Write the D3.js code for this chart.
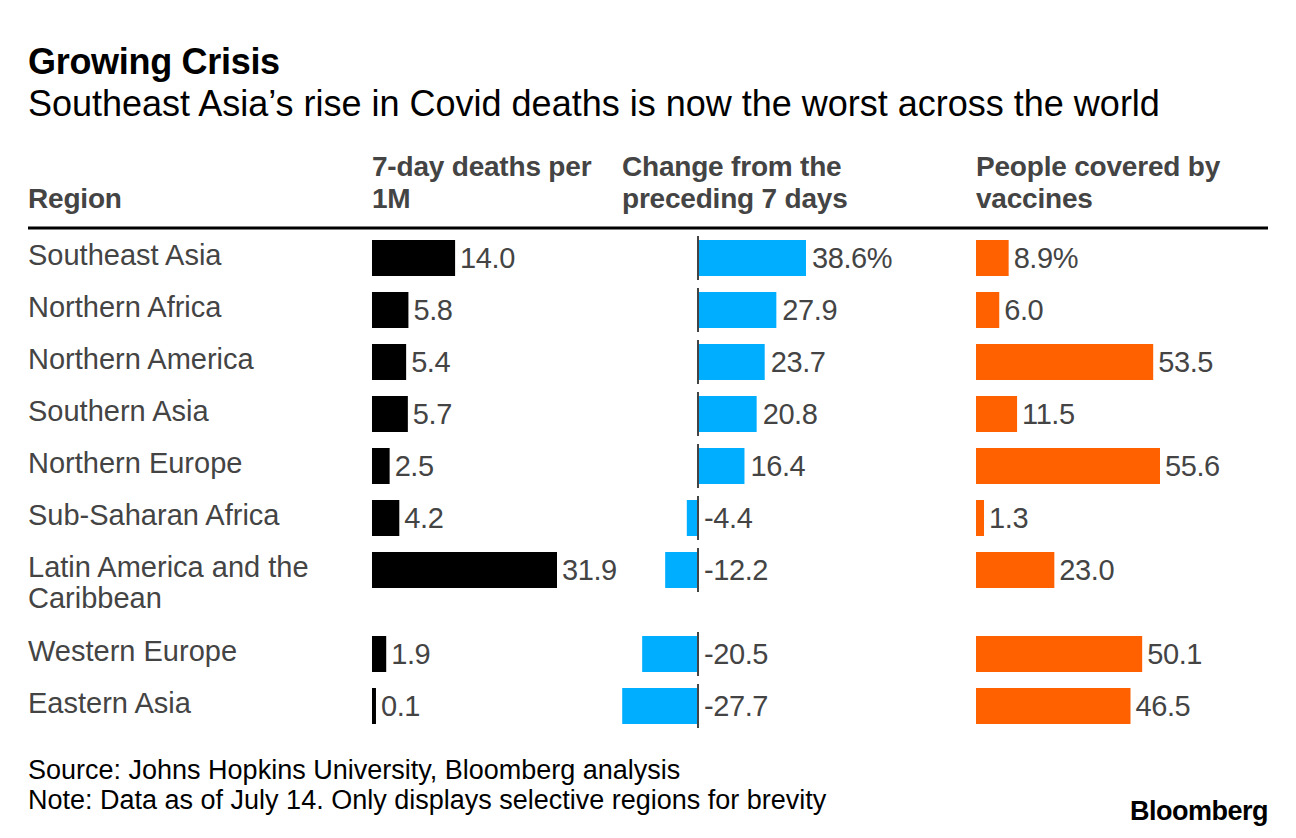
<!DOCTYPE html>
<html><head><meta charset="utf-8">
<script src="https://cdn.jsdelivr.net/npm/d3@7"></script>
<style>
html,body{margin:0;padding:0;background:#fff;}
svg text{font-family:"Liberation Sans",Arial,Helvetica,sans-serif;}
</style></head>
<body><svg id="chart" width="1296" height="838"></svg>
<script>
const regions = ["Southeast Asia","Northern Africa","Northern America","Southern Asia","Northern Europe","Sub-Saharan Africa","Latin America and the Caribbean","Western Europe","Eastern Asia"];
const deaths = [14.0,5.8,5.4,5.7,2.5,4.2,31.9,1.9,0.1];
const change = [38.6,27.9,23.7,20.8,16.4,-4.4,-12.2,-20.5,-27.7];
const vaccines = [8.9,6.0,53.5,11.5,55.6,1.3,23.0,50.1,46.5];
const headers = [["Region"],["7-day deaths per","1M"],["Change from the","preceding 7 days"],["People covered by","vaccines"]];
const title = "Growing Crisis";
const subtitle = "Southeast Asia\u2019s rise in Covid deaths is now the worst across the world";
const notes = ["Source: Johns Hopkins University, Bloomberg analysis","Note: Data as of July 14. Only displays selective regions for brevity"];

const svg = d3.select("#chart");
const grey = "#444";
const colX = [28, 372, 622, 976];

svg.append("text").attr("x",28).attr("y",74).attr("font-size",36).attr("font-weight","bold").attr("fill","#000").attr("letter-spacing",-0.3).text(title);
svg.append("text").attr("x",28).attr("y",116).attr("font-size",36).attr("fill","#000").text(subtitle);

// headers
headers.forEach((h,i)=>{
  const lines = h.length===1 ? [null,h[0]] : h;
  lines.forEach((t,j)=>{ if(t) svg.append("text").attr("x",colX[i]).attr("y",176+j*32).attr("font-size",28).attr("font-weight","bold").attr("fill",grey).attr("letter-spacing",-0.2).text(t); });
});
svg.append("line").attr("x1",28).attr("x2",1268).attr("y1",228).attr("y2",228).attr("stroke","#000").attr("stroke-width",3);

// wrap labels
const meas = svg.append("text").attr("font-size",29).attr("visibility","hidden");
function wrap(s, maxW){
  const words = s.split(" "); const lines=[]; let cur="";
  words.forEach(w=>{ const t = cur? cur+" "+w : w; meas.text(t); if(meas.node().getComputedTextLength()>maxW && cur){lines.push(cur);cur=w;} else cur=t; });
  if(cur) lines.push(cur); return lines;
}
const rows = regions.map((r,i)=>({region:r, lines:wrap(r,310), d:deaths[i], c:change[i], v:vaccines[i], i}));
meas.remove();
let acc = 240;
rows.forEach(r=>{ r.top = acc; acc += 52 + 32*(r.lines.length-1); });
const yTop = d3.scaleOrdinal().domain(regions).range(rows.map(r=>r.top));
const barH = 36;

const xD = d3.scaleLinear().domain([0,31.9]).range([372+3.4, 372+185]);
const xC = d3.scaleLinear().domain([0,38.6]).range([699, 806]);
const xV = d3.scaleLinear().domain([0,55.6]).range([976+3.8, 976+184]);

const g = svg.selectAll("g.row").data(rows).join("g").attr("class","row");
g.each(function(r){
  const s = d3.select(this); const t = yTop(r.region);
  r.lines.forEach((l,j)=> s.append("text").attr("x",28).attr("y",t+24.5+j*31).attr("font-size",29).attr("fill",grey).text(l));
  // deaths
  s.append("rect").attr("x",372).attr("y",t).attr("width",xD(r.d)-372).attr("height",barH).attr("fill","#000");
  s.append("text").attr("x",xD(r.d)+5).attr("y",t+28).attr("font-size",29).attr("fill",grey).attr("letter-spacing",-0.4).text(r.d.toFixed(1));
  // change
  const x0 = xC(0), x1 = xC(r.c);
  s.append("rect").attr("x",Math.min(x0,x1)).attr("y",t).attr("width",Math.abs(x1-x0)).attr("height",barH).attr("fill","#00aeff");
  s.append("line").attr("x1",x0-1).attr("x2",x0-1).attr("y1",t-4).attr("y2",t+barH+4).attr("stroke",grey).attr("stroke-width",2);
  s.append("text").attr("x",(r.c>=0?x1+6:x0+5)).attr("y",t+28).attr("font-size",29).attr("fill",grey).attr("letter-spacing",-0.4).text(r.c.toFixed(1)+(r.i===0?"%":""));
  // vaccines
  s.append("rect").attr("x",976).attr("y",t).attr("width",xV(r.v)-976).attr("height",barH).attr("fill","#ff6000");
  s.append("text").attr("x",xV(r.v)+5).attr("y",t+28).attr("font-size",29).attr("fill",grey).attr("letter-spacing",-0.4).text(r.v.toFixed(1)+(r.i===0?"%":""));
});

notes.forEach((n,i)=> svg.append("text").attr("x",28).attr("y",779+i*30).attr("font-size",27).attr("fill","#000").text(n));
svg.append("text").attr("x",1268).attr("y",820).attr("text-anchor","end").attr("font-size",27).attr("font-weight","bold").attr("fill","#000").attr("letter-spacing",-0.5).text("Bloomberg");
</script></body></html>
